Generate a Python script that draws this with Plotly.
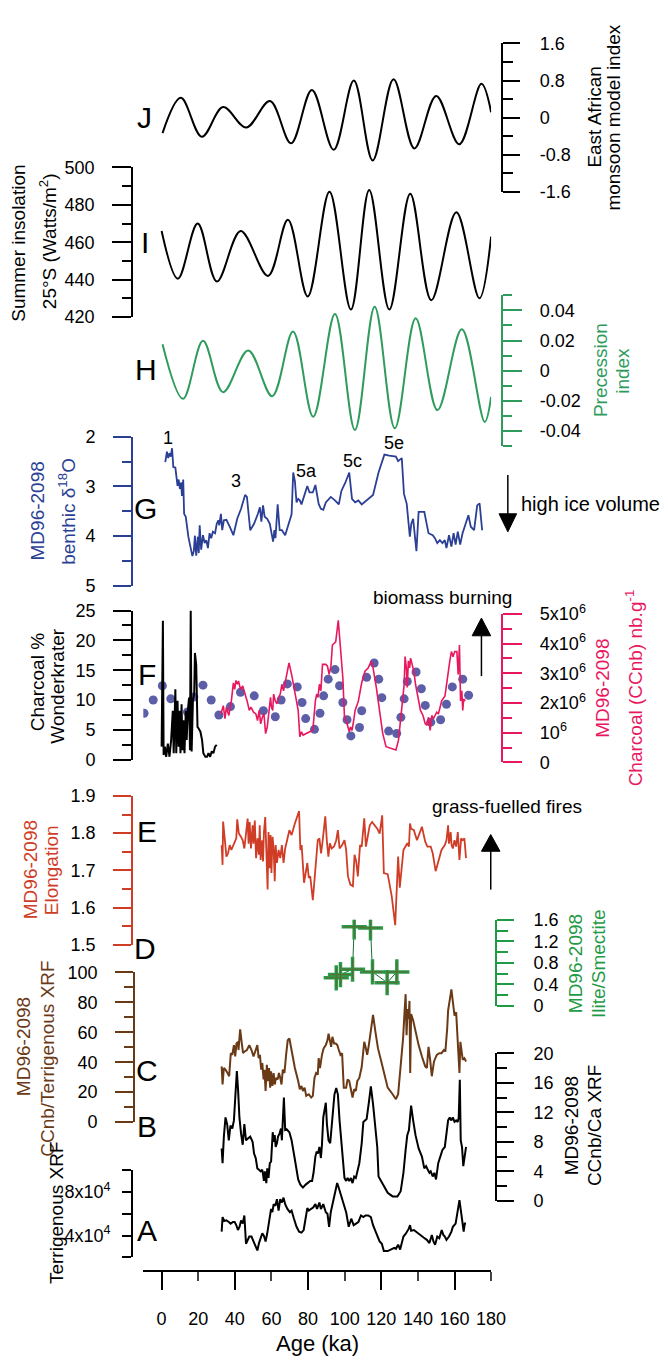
import plotly.graph_objects as go

W, H = 668, 1366
FONT = "Liberation Sans, Arial, sans-serif"

# ---------------- DATA ----------------
# J: East African monsoon model index (extrema)
j_age = [0.5, 10.5, 22.0, 33.6, 46.2, 59.2, 70.7, 82.1, 94.0, 105.0, 115.3, 126.7, 138.1, 150.0, 162.6, 174.7, 180.0]
j_val = [-0.33, 0.43, -0.41, 0.23, -0.21, 0.36, -0.55, 0.60, -0.69, 0.80, -0.92, 0.83, -0.66, 0.47, -0.57, 0.73, 0.12]

# I: Summer insolation 25S (W/m2)
i_age = [0.0, 8.9, 19.7, 30.2, 43.2, 58.1, 69.0, 79.8, 91.7, 103.4, 113.4, 124.4, 135.8, 147.3, 161.0, 173.6, 180.0]
i_val = [466, 440.5, 470, 439, 466, 442, 472, 431, 487, 424, 488, 424, 486, 429, 476, 430, 463]

# H: Precession index
h_age = [0.5, 11.7, 22.6, 33.6, 47.3, 60.4, 71.8, 82.8, 94.7, 105.6, 116.4, 127.4, 138.8, 150.7, 164.0, 176.5, 180.0]
h_val = [0.0176, -0.0187, 0.0198, -0.0143, 0.0134, -0.017, 0.026, -0.0306, 0.0376, -0.0394, 0.0424, -0.0383,
         0.0348, -0.0262, 0.0275, -0.0341, -0.0175]

# G: MD96-2098 benthic d18O
g_age = [2.0, 2.9, 3.6, 4.3, 5.0, 5.7, 6.4, 7.5, 8.7, 9.3, 10.0, 10.7, 11.1, 11.8, 12.3, 13.2, 14.6, 15.9, 16.8,
         17.6, 18.2, 18.9, 19.8, 20.3, 20.8, 21.6, 22.6, 23.5, 24.4, 25.3, 26.2, 27.1, 28.0, 29.2, 30.1, 31.0,
         31.5, 32.4, 33.1, 34.0, 35.4, 37.2, 39.2, 41.3, 43.4, 45.6, 46.6, 48.4, 50.5, 52.6, 53.7, 54.5, 55.4,
         56.3, 57.7, 59.1, 60.0, 60.9, 61.6, 62.2, 63.4, 64.5, 65.7, 67.5, 71.0, 71.9, 72.8, 73.7, 74.6, 75.5,
         76.4, 78.2, 79.6, 80.8, 82.6, 84.0, 84.9, 85.8, 87.0, 88.3, 89.7, 92.4, 94.7, 96.8, 98.2, 100.4, 102.5,
         104.0, 105.7, 107.5, 109.3, 112.5, 115.5, 118.5, 121.7, 124.4, 128.0, 129.2, 130.3, 131.2, 132.4,
         133.9, 135.6, 136.4, 137.4, 139.2, 140.4, 143.5, 145.8, 148.1, 149.3, 150.6, 152.0, 153.4, 154.7,
         155.6, 157.0, 158.3, 159.5, 160.6, 161.8, 163.1, 164.4, 165.9, 167.6, 168.9, 170.7, 172.4, 173.7, 175.1]
g_val = [2.51, 2.30, 2.43, 2.33, 2.40, 2.23, 2.61, 2.62, 2.99, 2.86, 3.05, 2.92, 3.19, 2.86, 3.55, 3.61, 4.01,
         4.27, 4.40, 4.30, 3.99, 4.39, 4.01, 4.34, 3.78, 4.27, 3.98, 4.14, 4.08, 4.24, 3.94, 4.04, 3.91, 3.94,
         3.75, 3.68, 3.78, 3.55, 3.88, 3.68, 3.67, 3.81, 3.98, 3.65, 3.45, 3.17, 3.21, 3.88, 3.75, 3.55, 3.42,
         3.71, 3.38, 3.61, 3.65, 3.75, 3.91, 4.11, 3.88, 4.04, 3.36, 3.88, 3.88, 3.98, 3.56, 2.72, 2.89, 3.32,
         3.25, 3.28, 3.36, 3.13, 2.99, 3.12, 3.12, 2.97, 3.19, 3.35, 3.45, 3.47, 3.32, 3.21, 3.28, 3.36, 3.09,
         2.92, 2.72, 3.25, 3.32, 3.28, 3.36, 3.27, 3.17, 2.72, 2.36, 2.38, 2.40, 2.49, 2.46, 2.43, 3.15, 3.35,
         4.01, 3.75, 3.65, 4.30, 3.51, 3.51, 3.94, 3.98, 4.04, 4.14, 4.08, 4.14, 4.08, 4.24, 3.98, 4.21, 3.94,
         4.17, 3.91, 4.17, 3.94, 3.75, 3.58, 3.81, 3.88, 3.38, 3.34, 3.88]

# F: Wonderkrater charcoal %
fw_age = [0.0, 0.7, 1.1, 1.8, 2.5, 3.4, 4.3, 5.2, 6.1, 6.6, 7.5, 8.0, 8.7, 9.3, 9.8, 10.3, 10.9, 11.4, 11.9, 12.5,
          13.2, 13.7, 14.3, 15.0, 15.5, 15.9, 16.4, 17.1, 17.8, 18.2, 18.9, 19.6, 20.3, 21.2, 22.1, 22.8, 23.9,
          24.8, 25.6, 26.5, 27.4, 28.3, 29.2, 30.1]
fw_val = [2.2, 23.3, 0.8, 2.2, 0.5, 2.7, 0.5, 3.3, 8.2, 1.1, 11.8, 1.1, 9.9, 2.2, 8.2, 1.1, 9.3, 1.6, 6.6, 1.1,
          8.2, 3.3, 8.2, 10.4, 1.6, 25.0, 1.4, 9.9, 11.0, 17.9, 15.9, 5.5, 5.2, 4.7, 3.3, 1.1, 0.5, 0.5, 1.1,
          0.5, 1.4, 1.1, 2.2, 2.5]

# F: MD96-2098 charcoal (x10^6 nb/g)
fc_age = [32.4, 33.7, 34.6, 35.4, 36.7, 38.1, 39.2, 39.9, 40.6, 41.3, 42.0, 43.1, 44.3, 45.2, 46.7, 47.9, 48.8,
          50.2, 51.5, 52.4, 53.3, 54.1, 55.0, 55.9, 56.8, 57.7, 58.6, 59.5, 60.0, 60.7, 61.2, 62.1, 63.0, 63.9,
          64.8, 65.7, 66.6, 67.5, 68.3, 69.6, 71.0, 72.8, 74.6, 75.5, 76.4, 77.3, 79.0, 80.8, 82.6, 84.0, 84.7,
          85.4, 86.2, 87.0, 87.9, 89.7, 90.6, 91.5, 92.5, 93.3, 95.1, 96.5, 97.2, 98.1, 99.0, 99.9, 100.8, 101.8,
          102.5, 103.2, 104.0, 104.8, 105.7, 107.5, 109.3, 111.1, 112.8, 114.6, 115.5, 117.3, 119.1, 120.8,
          122.6, 125.3, 128.0, 129.4, 130.7, 131.6, 132.5, 133.0, 133.7, 134.2, 134.8, 135.5, 136.0, 136.9,
          137.8, 138.7, 139.6, 140.5, 141.4, 142.8, 144.0, 144.9, 145.8, 146.7, 147.6, 148.5, 150.3, 151.2,
          153.0, 154.8, 155.7, 156.5, 157.4, 158.3, 159.2, 160.1, 161.3, 162.0, 162.7, 163.3, 164.0, 164.5,
          165.0, 165.9]
fc_val = [1.63, 1.91, 1.47, 1.86, 1.58, 2.07, 2.68, 2.46, 2.76, 2.63, 2.74, 2.46, 2.57, 2.41, 2.07, 1.75, 1.86,
          1.69, 1.63, 1.41, 1.75, 1.30, 1.52, 1.63, 0.97, 1.19, 1.75, 2.19, 1.86, 1.75, 2.30, 2.07, 1.97, 2.19,
          2.30, 2.63, 2.41, 2.68, 2.85, 3.35, 2.96, 2.30, 1.75, 0.86, 1.03, 0.92, 0.97, 1.03, 1.08, 2.07, 2.30,
          2.19, 2.63, 2.41, 3.30, 3.30, 3.24, 2.96, 3.24, 3.95, 4.06, 4.78, 4.17, 3.40, 2.85, 1.52, 1.41, 1.19,
          1.03, 1.19, 1.08, 1.36, 1.75, 2.07, 2.68, 3.07, 3.18, 3.40, 3.18, 2.52, 1.63, 0.97, 0.53, 0.48, 0.42,
          0.75, 1.41, 2.07, 2.63, 3.56, 3.18, 2.52, 3.42, 3.18, 3.51, 3.30, 3.07, 2.63, 2.30, 2.07, 1.75, 1.58,
          1.30, 1.25, 1.52, 1.08, 1.58, 1.47, 1.69, 1.63, 2.07, 2.24, 2.68, 2.90, 3.40, 3.73, 3.56, 3.73, 3.73,
          2.96, 3.95, 2.07, 2.41, 1.75, 2.13, 2.07]

# F: dotted curve (on charcoal % scale)
fd_age = [-9.6, -4.6, 0.4, 5.0, 8.7, 14.1, 17.6, 22.6, 27.1, 31.3, 37.6, 43.1, 50.6, 55.6, 62.1, 65.3, 68.7,
          74.1, 76.7, 78.7, 83.5, 86.5, 88.5, 91.0, 94.7, 97.2, 99.0, 101.3, 103.4, 108.1, 109.3, 112.0, 116.1,
          118.6, 120.3, 124.0, 128.4, 130.7, 132.5, 134.2, 139.0, 141.9, 144.0, 147.0, 152.4, 155.6, 158.8,
          164.5, 167.7]
fd_val = [7.8, 10.0, 12.4, 10.2, 7.4, 8.0, 10.5, 12.5, 10.0, 7.5, 8.9, 11.3, 10.7, 8.2, 7.2, 10.0, 12.7, 12.2,
          9.6, 6.9, 5.1, 7.8, 10.7, 13.5, 15.1, 12.4, 9.6, 6.7, 4.0, 5.4, 8.2, 13.8, 16.2, 13.5, 10.4, 4.8, 4.4,
          7.1, 10.2, 13.1, 14.7, 11.9, 9.1, 6.3, 6.7, 9.3, 12.2, 13.5, 10.8]

# E: MD96-2098 elongation
e_age = [32.8, 33.3, 33.6, 34.5, 35.4, 36.3, 37.2, 38.1, 38.9, 39.8, 40.8, 41.3, 42.2, 43.4, 44.3, 45.2, 46.1,
         47.0, 47.5, 48.1, 48.8, 49.7, 50.2, 50.9, 51.6, 52.4, 53.1, 53.6, 54.1, 54.9, 55.4, 55.9, 56.6, 57.3,
         57.9, 58.4, 59.0, 59.5, 60.0, 60.6, 61.2, 61.8, 62.3, 63.0, 63.9, 64.8, 65.7, 66.6, 67.5, 69.8, 71.0,
         72.8, 75.1, 75.8, 76.5, 77.8, 78.7, 79.6, 80.4, 81.2, 82.6, 84.0, 85.3, 86.2, 87.1, 88.0, 88.9, 89.4,
         90.3, 91.1, 91.9, 92.9, 94.2, 95.4, 96.3, 97.2, 98.6, 99.9, 100.8, 101.8, 103.1, 104.5, 105.4, 106.3,
         107.2, 108.4, 109.3, 110.2, 110.7, 111.6, 112.9, 113.7, 115.0, 116.4, 117.8, 119.1, 120.5, 121.4,
         123.5, 125.7, 127.6, 129.2, 130.1, 132.1, 133.3, 134.2, 135.1, 135.7, 136.3, 137.8, 139.5, 141.0,
         142.2, 144.0, 145.2, 147.0, 148.1, 149.7, 151.1, 152.9, 154.7, 155.6, 156.5, 157.0, 157.9, 158.4,
         159.1, 160.0, 160.9, 161.8, 162.7, 163.6, 164.5, 165.4, 166.3]
e_val = [1.768, 1.715, 1.831, 1.786, 1.737, 1.746, 1.768, 1.755, 1.764, 1.777, 1.786, 1.837, 1.799, 1.790, 1.781,
         1.759, 1.795, 1.839, 1.772, 1.830, 1.759, 1.821, 1.772, 1.834, 1.733, 1.786, 1.742, 1.821, 1.728,
         1.781, 1.724, 1.803, 1.843, 1.733, 1.649, 1.803, 1.706, 1.795, 1.693, 1.790, 1.759, 1.671, 1.768,
         1.720, 1.755, 1.733, 1.768, 1.720, 1.759, 1.808, 1.795, 1.826, 1.859, 1.755, 1.768, 1.667, 1.698,
         1.720, 1.680, 1.684, 1.620, 1.698, 1.781, 1.786, 1.746, 1.781, 1.826, 1.845, 1.777, 1.737, 1.773,
         1.759, 1.764, 1.781, 1.808, 1.759, 1.768, 1.781, 1.755, 1.684, 1.662, 1.658, 1.742, 1.724, 1.684,
         1.768, 1.764, 1.812, 1.840, 1.764, 1.803, 1.821, 1.830, 1.821, 1.812, 1.799, 1.848, 1.693, 1.690,
         1.631, 1.553, 1.737, 1.654, 1.755, 1.764, 1.773, 1.764, 1.826, 1.812, 1.808, 1.781, 1.799, 1.817,
         1.777, 1.764, 1.764, 1.746, 1.698, 1.724, 1.755, 1.768, 1.781, 1.821, 1.772, 1.803, 1.768, 1.759,
         1.781, 1.764, 1.803, 1.728, 1.786, 1.781, 1.786, 1.733]

# D: Illite/Smectite
d_age = [95.4, 97.7, 104.3, 105.2, 114.1, 115.2, 123.2, 128.5]
d_val = [0.52, 0.58, 0.68, 1.47, 1.45, 0.63, 0.43, 0.63]

# C: CCnb/Terrigenous XRF
c_age = [32.8, 33.3, 34.0, 34.9, 36.0, 36.9, 37.8, 38.6, 39.5, 40.2, 40.9, 41.7, 42.0, 42.9, 43.8, 44.5, 45.2,
         46.6, 47.9, 49.1, 50.2, 51.4, 52.3, 53.0, 53.7, 54.4, 55.0, 55.7, 56.2, 56.8, 57.5, 58.0, 58.7, 59.3,
         59.8, 60.5, 61.2, 61.8, 62.5, 63.4, 64.1, 64.8, 65.5, 66.2, 67.1, 68.0, 68.9, 69.8, 71.0, 72.8, 74.6,
         75.5, 76.4, 77.2, 78.1, 79.0, 80.4, 81.7, 82.6, 83.5, 84.4, 85.3, 85.8, 86.5, 87.6, 88.5, 89.7, 90.6,
         91.2, 91.9, 92.6, 93.3, 94.2, 95.1, 96.0, 96.8, 97.7, 98.6, 99.5, 100.8, 101.6, 102.5, 103.4, 104.3,
         105.2, 106.1, 106.9, 108.0, 109.3, 110.7, 111.4, 112.3, 113.2, 114.3, 115.5, 116.8, 118.2, 120.0,
         121.7, 123.5, 126.2, 128.0, 129.2, 130.6, 131.9, 132.8, 133.3, 133.8, 134.4, 134.9, 135.4, 135.8,
         136.3, 137.4, 138.7, 140.4, 142.2, 144.0, 144.9, 145.8, 146.7, 147.6, 148.8, 150.3, 151.7, 152.9,
         154.2, 155.0, 156.0, 156.5, 158.3, 159.1, 160.0, 160.9, 161.8, 162.7, 163.2, 163.9, 164.5, 165.4, 166.3]
c_val = [37.2, 25.1, 36.1, 35.0, 32.8, 30.6, 46.0, 44.9, 51.4, 43.8, 52.5, 53.6, 48.1, 61.9, 52.5, 46.0, 47.0,
         48.1, 51.4, 48.1, 43.8, 49.2, 51.4, 42.7, 44.9, 35.0, 39.4, 28.5, 35.0, 20.8, 38.3, 27.4, 36.1, 23.0,
         33.9, 24.1, 32.8, 25.1, 29.5, 28.5, 32.8, 29.5, 25.1, 35.0, 32.8, 44.9, 54.7, 55.8, 47.0, 36.1, 27.4,
         21.9, 24.1, 20.8, 23.0, 17.5, 18.6, 16.4, 17.5, 29.5, 32.8, 31.7, 42.7, 36.1, 44.9, 49.2, 51.4, 54.7,
         59.1, 54.7, 50.3, 56.9, 52.5, 52.5, 51.4, 48.1, 44.9, 46.0, 23.0, 23.0, 28.5, 27.4, 21.9, 16.4, 21.9,
         20.8, 27.4, 29.5, 36.8, 53.6, 50.3, 44.9, 51.4, 60.2, 71.6, 60.2, 49.2, 40.5, 32.8, 23.0, 18.6, 15.3,
         18.6, 37.2, 55.8, 75.5, 85.4, 58.0, 75.5, 68.9, 80.9, 32.8, 72.1, 68.0, 60.2, 51.4, 43.8, 37.2, 36.1,
         50.3, 41.6, 30.6, 40.5, 44.9, 46.0, 46.0, 48.1, 47.0, 62.4, 74.4, 88.6, 79.9, 71.1, 73.3, 55.8, 32.8,
         53.6, 44.9, 41.6, 42.7, 40.5]

# B: CCnb/Ca XRF
b_age = [32.8, 33.3, 34.0, 34.9, 35.8, 36.7, 37.6, 38.6, 39.5, 40.4, 41.1, 41.8, 42.5, 43.4, 44.3, 45.2, 46.1,
         47.0, 48.4, 49.7, 50.5, 51.4, 52.3, 53.2, 54.1, 55.0, 55.9, 56.4, 57.2, 57.7, 58.4, 59.1, 59.8, 60.7,
         61.2, 61.8, 62.3, 63.0, 63.6, 64.4, 65.2, 65.7, 66.2, 66.8, 67.5, 68.3, 69.8, 71.0, 72.8, 74.6, 75.8,
         77.2, 78.7, 79.9, 81.2, 82.2, 83.0, 84.0, 84.7, 85.4, 86.2, 87.0, 87.6, 88.3, 89.0, 89.7, 90.3, 91.2,
         92.1, 92.9, 93.5, 94.4, 95.4, 96.3, 97.2, 98.1, 99.0, 99.9, 100.8, 101.6, 102.5, 103.4, 104.3, 105.2,
         106.1, 106.9, 108.0, 109.3, 110.2, 111.1, 112.0, 113.2, 114.3, 115.5, 116.8, 117.8, 118.5, 120.9,
         123.5, 126.2, 128.8, 130.6, 132.1, 133.3, 134.2, 135.1, 135.7, 136.3, 137.4, 138.7, 140.4, 142.2,
         143.5, 144.5, 145.4, 146.3, 147.0, 148.1, 149.0, 149.9, 151.1, 152.4, 153.4, 154.7, 155.6, 156.5,
         157.4, 158.3, 159.1, 160.0, 160.9, 161.8, 162.3, 162.9, 163.4, 164.1, 164.8, 165.6, 166.3]
b_val = [7.1, 5.1, 8.7, 11.3, 10.4, 8.2, 10.2, 9.8, 10.9, 14.0, 17.6, 14.9, 11.3, 9.1, 7.6, 10.4, 8.2, 8.4, 8.7,
         8.0, 6.4, 5.8, 4.4, 4.2, 4.0, 4.2, 2.7, 4.0, 2.4, 4.4, 3.1, 5.1, 5.3, 9.3, 8.0, 8.9, 7.3, 7.8, 8.7, 9.1,
         9.8, 8.2, 10.2, 14.0, 9.6, 9.7, 9.3, 8.2, 5.6, 2.9, 2.2, 1.8, 2.2, 2.4, 2.7, 2.7, 3.8, 6.0, 6.7, 6.4,
         7.3, 5.8, 7.6, 11.3, 12.4, 13.3, 10.4, 8.2, 7.8, 10.4, 12.6, 14.4, 15.3, 14.4, 10.9, 8.4, 5.3, 3.1,
         2.7, 3.1, 2.7, 3.1, 2.4, 3.3, 3.1, 4.0, 5.1, 7.8, 10.7, 10.9, 11.1, 13.3, 15.5, 13.1, 10.0, 7.3, 3.3,
         2.2, 1.1, 0.6, 0.6, 1.3, 3.8, 6.9, 8.9, 9.6, 11.3, 12.9, 10.9, 8.9, 7.1, 6.0, 4.4, 4.7, 4.2, 3.8, 4.0,
         3.3, 3.8, 2.9, 5.1, 6.0, 6.9, 7.3, 8.9, 10.9, 11.3, 10.9, 11.3, 10.7, 10.9, 10.7, 11.3, 16.4, 8.2,
         7.3, 4.7, 6.4, 7.3]

# A: Terrigenous XRF (x10^4)
a_age = [32.8, 33.3, 34.2, 35.4, 36.7, 37.7, 39.0, 39.9, 40.8, 41.7, 42.6, 43.4, 44.3, 45.2, 46.1, 47.0, 47.9,
         49.1, 50.2, 51.3, 52.3, 53.2, 54.1, 55.0, 55.9, 56.8, 57.7, 58.6, 59.1, 59.8, 60.5, 61.2, 62.1, 63.0,
         63.9, 64.8, 65.7, 66.6, 67.5, 68.7, 70.1, 71.0, 72.3, 73.7, 75.1, 76.4, 77.6, 78.7, 79.6, 80.4, 81.7,
         82.9, 84.0, 84.9, 86.2, 87.0, 88.3, 89.7, 90.6, 91.5, 92.4, 93.3, 94.7, 95.9, 96.8, 98.1, 99.5, 100.8,
         102.2, 103.6, 104.9, 106.1, 107.5, 108.9, 110.2, 111.4, 112.9, 114.3, 115.5, 117.3, 119.1, 120.3,
         121.4, 123.5, 125.3, 127.1, 128.0, 129.2, 130.3, 131.0, 132.1, 133.3, 134.2, 135.1, 135.7, 136.3,
         137.8, 139.5, 141.3, 143.1, 144.9, 146.3, 147.6, 148.5, 149.4, 150.6, 151.7, 153.0, 153.9, 154.7,
         155.6, 157.0, 158.3, 159.1, 160.6, 161.8, 162.7, 163.6, 164.5, 165.0, 165.6, 166.3]
a_val = [4.36, 5.70, 5.34, 5.40, 5.25, 5.10, 5.25, 5.25, 4.96, 4.51, 4.81, 5.40, 5.10, 5.85, 3.25, 3.61, 3.91,
         3.91, 3.46, 3.02, 2.63, 3.31, 3.76, 4.21, 3.97, 3.46, 4.21, 5.40, 5.70, 6.45, 6.15, 6.89, 6.74, 7.34,
         6.30, 7.34, 7.04, 7.49, 6.89, 6.45, 6.15, 6.30, 5.55, 4.81, 4.36, 4.27, 4.51, 5.55, 6.53, 6.30, 6.45,
         6.60, 6.89, 6.45, 7.04, 6.45, 6.89, 6.15, 6.00, 4.81, 6.15, 6.89, 7.94, 8.83, 8.38, 7.64, 6.89, 6.15,
         4.81, 5.55, 4.96, 5.10, 5.25, 5.85, 5.70, 5.85, 5.85, 5.70, 4.96, 4.21, 3.46, 3.25, 2.57, 2.57, 2.72,
         2.87, 2.78, 3.16, 2.72, 3.16, 3.91, 4.15, 4.36, 4.66, 4.96, 4.45, 4.51, 4.27, 4.06, 3.82, 3.61, 3.31,
         4.06, 3.46, 3.16, 3.91, 3.76, 4.51, 4.06, 3.91, 3.61, 3.91, 4.36, 4.81, 5.10, 6.15, 7.25, 6.15, 5.10,
         4.36, 5.10, 5.10]

# tick labels / stage labels
x_ticks = [0, 20, 40, 60, 80, 100, 120, 140, 160, 180]
g_stage_lbl = ["1", "3", "5a", "5c", "5e"]
g_stage_age = [3.4, 40.8, 79.0, 104.4, 126.7]
g_stage_val = [2.02, 2.89, 2.69, 2.48, 2.13]

# ---------------- COLOURS ----------------
BLUE = "#2b3f95"
PINK = "#e8185f"
HGREEN = "#2f9b5d"
DGREEN = "#1f9a45"
RED = "#d03d27"
BROWN = "#6a3a16"
DOTS = "#5c5fa8"


def fx(p):
    return p / W


def fy(p):
    return 1 - p / H


fig = go.Figure()

# traces
fig.add_trace(go.Scatter(x=j_age, y=j_val, mode="lines", line=dict(color="black", width=2, shape="spline"), yaxis="y"))
fig.add_trace(go.Scatter(x=i_age, y=i_val, mode="lines", line=dict(color="black", width=2, shape="spline"), yaxis="y2"))
fig.add_trace(go.Scatter(x=h_age, y=h_val, mode="lines", line=dict(color=HGREEN, width=2, shape="spline"), yaxis="y3"))
fig.add_trace(go.Scatter(x=g_age, y=g_val, mode="lines", line=dict(color=BLUE, width=1.8), yaxis="y4"))
fig.add_trace(go.Scatter(x=fd_age, y=fd_val, mode="markers",
                         marker=dict(color=DOTS, size=9, line=dict(width=0)), yaxis="y5"))
fig.add_trace(go.Scatter(x=fw_age, y=fw_val, mode="lines", line=dict(color="black", width=2), yaxis="y5"))
fig.add_trace(go.Scatter(x=fc_age, y=fc_val, mode="lines", line=dict(color=PINK, width=1.6), yaxis="y6"))
fig.add_trace(go.Scatter(x=e_age, y=e_val, mode="lines", line=dict(color=RED, width=1.8), yaxis="y7"))
fig.add_trace(go.Scatter(x=d_age, y=d_val, mode="lines+markers", line=dict(color="#1a6e3a", width=1),
                         marker=dict(symbol="cross-thin", size=18, line=dict(color="#2a9a4e", width=3.5)), yaxis="y8"))
fig.add_trace(go.Scatter(x=d_age, y=d_val, mode="markers",
                         marker=dict(symbol="cross-thin", size=15, line=dict(color="#5f6a2a", width=1)), yaxis="y8"))
fig.add_trace(go.Scatter(x=c_age, y=c_val, mode="lines", line=dict(color=BROWN, width=2), yaxis="y9"))
fig.add_trace(go.Scatter(x=b_age, y=b_val, mode="lines", line=dict(color="black", width=2), yaxis="y10"))
fig.add_trace(go.Scatter(x=a_age, y=a_val, mode="lines", line=dict(color="black", width=2), yaxis="y11"))
fig.add_trace(go.Scatter(x=[], y=[], xaxis="x2", yaxis="y11", showlegend=False))

tickfont = dict(family=FONT, size=18, color="black")


def yax(top, bot, rng, xpos, side, color, major, minor, ticklen=18, minorlen=9, ticktext=None, standoff=14,
        showlabels=True):
    d = dict(domain=[fy(bot), fy(top)], range=rng, anchor="free", position=fx(xpos), side=side,
             showline=True, linecolor=color, linewidth=1.6, ticks="outside", ticklen=ticklen,
             tickwidth=1.6, tickcolor=color, showgrid=False, zeroline=False, tickfont=tickfont,
             ticklabelstandoff=standoff, showticklabels=showlabels,
             minor=dict(ticks="outside", ticklen=minorlen, tickwidth=1.6, tickcolor=color,
                        tickmode="array", tickvals=minor, showgrid=False),
             fixedrange=True)
    d["tickmode"] = "array"
    d["tickvals"] = major
    if ticktext is not None:
        d["ticktext"] = ticktext
    return d


layout = dict(
    width=W, height=H, margin=dict(l=0, r=0, t=0, b=0),
    paper_bgcolor="white", plot_bgcolor="rgba(0,0,0,0)", showlegend=False,
    font=dict(family=FONT, size=18, color="black"),
    xaxis=dict(domain=[fx(146.6), fx(502.4)], range=[-10, 180], anchor="free", position=fy(1280),
               showline=True, linecolor="black", linewidth=1.6, ticks="outside", ticklen=9, tickwidth=1.6,
               tickmode="array", tickvals=x_ticks, tickfont=tickfont, ticklabelstandoff=22,
               showgrid=False, zeroline=False, fixedrange=True),
    xaxis2=dict(overlaying="x", range=[-10, 180], anchor="free", position=fy(1280), showline=False,
                ticks="outside", ticklen=18, tickwidth=1.6, tickcolor="black", tickmode="array",
                tickvals=[0, 40, 80, 120, 160], showticklabels=False, showgrid=False, zeroline=False,
                fixedrange=True),
    yaxis=yax(32, 183, [-1.6, 1.6], 514, "right", "black", [-1.6, -0.8, 0, 0.8, 1.6], [-1.2, -0.4, 0.4, 1.2],
              ticklen=17, minorlen=10, ticktext=["-1.6", "-0.8", "0", "0.8", "1.6"], standoff=16),
    yaxis2=yax(158, 310, [420, 500], 135, "left", "black", [420, 440, 460, 480, 500], [430, 450, 470, 490],
               ticklen=19),
    yaxis3=yax(288, 441, [-0.05, 0.05], 514, "right", HGREEN, [-0.04, -0.02, 0, 0.02, 0.04],
               [-0.05, -0.03, -0.01, 0.01, 0.03, 0.05], ticklen=19,
               ticktext=["-0.04", "-0.02", "0", "0.02", "0.04"], standoff=14),
    yaxis4=yax(431.7, 583.3, [5, 2], 135, "left", BLUE, [2, 3, 4, 5], [2.5, 3.5, 4.5]),
    yaxis5=yax(608.3, 760, [0, 25], 135, "left", "black", [0, 5, 10, 15, 20, 25], [2.5, 7.5, 12.5, 17.5, 22.5]),
    yaxis6=yax(611.7, 762.7, [0, 5], 514, "right", PINK, [0, 1, 2, 3, 4, 5], [0.5, 1.5, 2.5, 3.5, 4.5],
               ticklen=19,
               ticktext=["0", "10<sup>6</sup>", "2x10<sup>6</sup>", "3x10<sup>6</sup>", "4x10<sup>6</sup>",
                         "5x10<sup>6</sup>"], standoff=14),
    yaxis7=yax(796.7, 948.3, [1.5, 1.9], 135, "left", RED, [1.5, 1.6, 1.7, 1.8, 1.9], [1.55, 1.65, 1.75, 1.85],
               ticktext=["1.5", "1.6", "1.7", "1.8", "1.9"]),
    yaxis8=yax(922.7, 1010, [0, 1.6], 507.5, "right", DGREEN, [0, 0.4, 0.8, 1.2, 1.6], [0.2, 0.6, 1.0, 1.4],
               ticklen=17, minorlen=11, ticktext=["0", "0.4", "0.8", "1.2", "1.6"], standoff=16),
    yaxis9=yax(976, 1128.3, [0, 100], 137, "left", BROWN, [0, 20, 40, 60, 80, 100], [10, 30, 50, 70, 90]),
    yaxis10=yax(1058.3, 1208.3, [0, 20], 507.5, "right", "black", [0, 4, 8, 12, 16, 20], [2, 6, 10, 14, 18],
                ticklen=17, minorlen=10, standoff=16),
    yaxis11=yax(1177.3, 1265.7, [2, 10], 135, "left", "black", [4, 8], [2, 6, 10], ticklen=9, minorlen=9,
                ticktext=["4x10<sup>4</sup>", "8x10<sup>4</sup>"], standoff=8),
)
fig.update_layout(**layout)

ann = []


def txt(text, x, y, size=19, color="black", angle=0, xanchor="center"):
    ann.append(dict(text=text, x=fx(x), y=fy(y), xref="paper", yref="paper", showarrow=False,
                    textangle=angle, xanchor=xanchor, yanchor="middle",
                    font=dict(family=FONT, size=size, color=color)))


# panel letters
for lt, (lx, ly) in zip("JIHGFEDCBA", [(148, 107), (148, 234), (149, 363), (149, 505), (150, 673), (150, 833),
                                      (148, 952), (150, 1076), (150, 1133), (150, 1238)]):
    txt(lt, lx, ly, size=30)

# left titles
txt("Summer insolation", 19, 235, angle=-90)
txt("25°S (Watts/m<sup>2</sup>)", 49, 233, angle=-90)
txt("MD96-2098", 38.5, 507, color=BLUE, angle=-90)
txt("benthic δ<sup>18</sup>O", 68.5, 507, color=BLUE, angle=-90)
txt("Charcoal %", 38, 681, angle=-90)
txt("Wonderkrater", 59, 685, angle=-90)
txt("MD96-2098", 32, 872, color=RED, angle=-90)
txt("Elongation", 53.5, 872, color=RED, angle=-90)
txt("MD96-2098", 23.6, 1052, color=BROWN, angle=-90)
txt("CCnb/Terrigenous XRF", 49, 1064, color=BROWN, angle=-90)
txt("Terrigenous XRF", 58, 1220, angle=-90)

# right titles
txt("East African", 608, 107, angle=-90)
txt("monsoon model index", 627.4, 107, angle=-90)
txt("Precession", 613.7, 364, color=HGREEN, angle=-90)
txt("index", 636, 365, color=HGREEN, angle=-90)
txt("MD96-2098", 616.7, 687, color=PINK, angle=-90)
txt("Charcoal (CCnb) nb.g<sup>-1</sup>", 649, 687, color=PINK, angle=-90)
txt("MD96-2098", 589, 967, color=DGREEN, angle=-90)
txt("Ilite/Smectite", 612.4, 967, color=DGREEN, angle=-90)
txt("MD96-2098", 584.6, 1132, angle=-90)
txt("CCnb/Ca XRF", 608, 1132, angle=-90)

# other texts
txt("high ice volume", 531, 500, size=20, xanchor="left")
txt("biomass burning", 453, 595)
txt("grass-fuelled fires", 519, 807)
txt("Age (ka)", 324.5, 1353, size=22)

for lbl, a, v in zip(g_stage_lbl, g_stage_age, g_stage_val):
    ann.append(dict(text=lbl, x=a, y=v, xref="x", yref="y4", showarrow=False, xanchor="center",
                    yanchor="middle", font=dict(family=FONT, size=18, color="black")))

fig.update_layout(annotations=ann)

# arrows (decorations)
shapes = []


def seg(x0, y0, x1, y1):
    shapes.append(dict(type="line", xref="paper", yref="paper", x0=fx(x0), y0=fy(y0), x1=fx(x1), y1=fy(y1),
                       line=dict(color="black", width=1.5)))


def tri(pts):
    path = "M " + " L ".join(f"{fx(px):.5f},{fy(py):.5f}" for px, py in pts) + " Z"
    shapes.append(dict(type="path", xref="paper", yref="paper", path=path, fillcolor="black",
                       line=dict(color="black", width=1)))


seg(519.5, 470.7, 519.5, 512)
tri([(510.5, 510), (528.5, 510), (519.5, 528.3)])
seg(492.5, 675, 492.5, 633)
tri([(483, 634), (502, 634), (492.5, 616)])
seg(502, 892, 502, 852)
tri([(492.5, 853), (511.5, 853), (502, 836)])
fig.update_layout(shapes=shapes)

fig.write_html("out.html", config={"displayModeBar": False},
               post_script="document.body.style.margin='0';document.body.style.overflow='hidden';")
